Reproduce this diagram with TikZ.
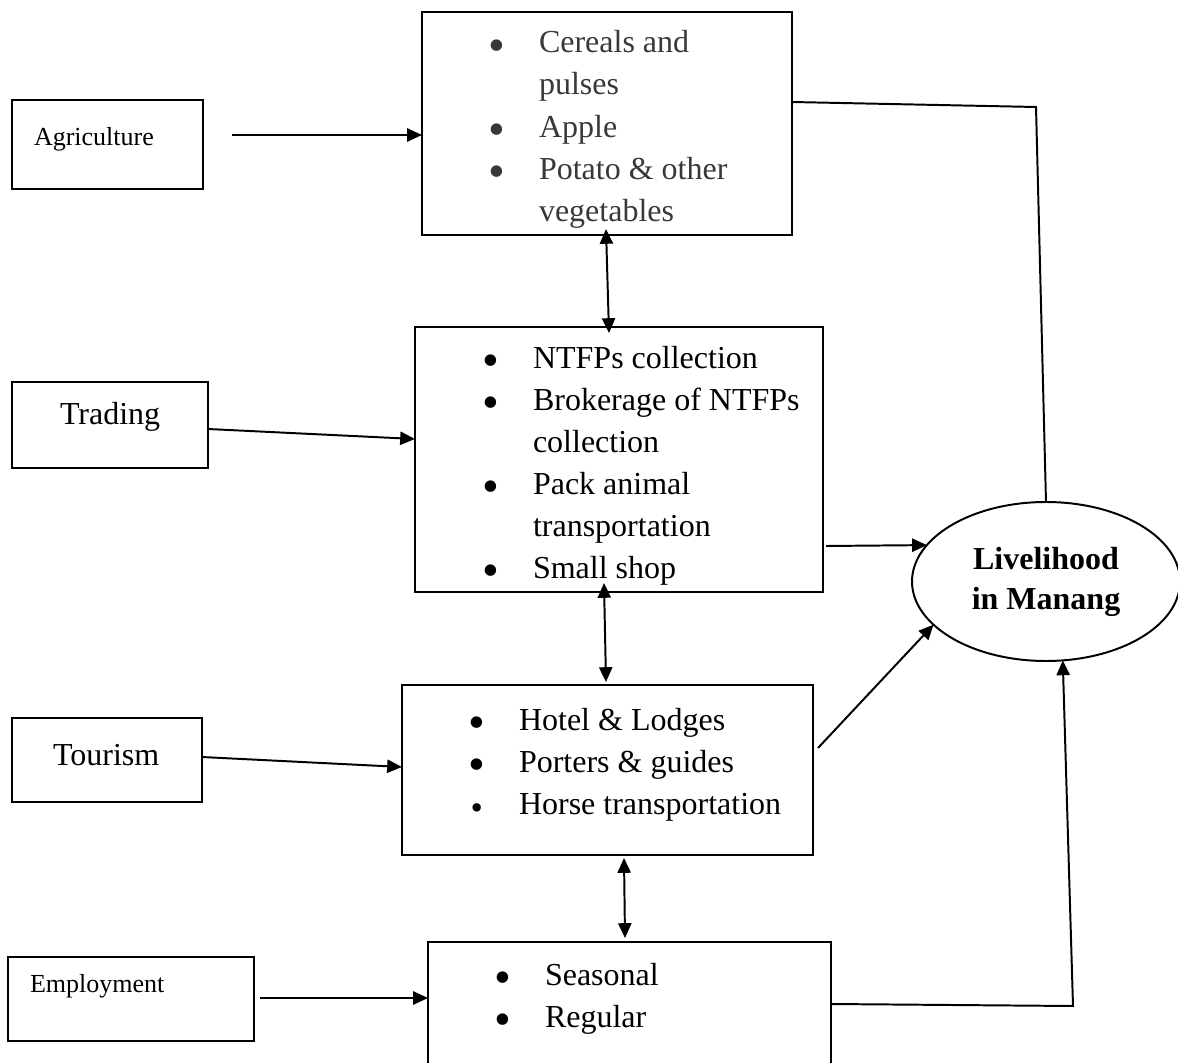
\documentclass[tikz,border=0pt]{standalone}
\usepackage{graphicx}
\usepackage{fontspec}
\setmainfont{Liberation Serif}
\usetikzlibrary{shapes.geometric, arrows.meta}

\newcommand{\bigtxt}{\fontsize{22.76}{29.87}\selectfont}
\newcommand{\smalltxt}{\fontsize{18.5}{22}\selectfont}
\newcommand{\itm}{\llap{\raisebox{-6pt}{\scalebox{1.5}{\textbullet}}\hspace{0.84cm}}}
\newcommand{\itms}{\llap{\raisebox{-3.6pt}{\scalebox{1.1}{\textbullet}}\hspace{0.9cm}}}

\begin{document}
\begin{tikzpicture}[
    x=0.025cm, y=-0.025cm,
    every node/.style={inner sep=0pt, outer sep=0pt},
    box/.style={draw, line width=1.4pt, rectangle},
    txt/.style={anchor=base west, font=\bigtxt},
    smalltxt/.style={anchor=base west, font=\smalltxt},
    link/.style={line width=1.4pt},
    >={Triangle[length=0.37cm, width=0.33cm]}
]
    \def\px{0.025cm}
    \useasboundingbox (0,0) rectangle (1178,1063);

    \node[box, minimum width=191*\px, minimum height=89*\px] (agri) at (107.5,144.5) {};
    \node[box, minimum width=196*\px, minimum height=86*\px] (trade) at (110,425) {};
    \node[box, minimum width=190*\px, minimum height=84*\px] (tour) at (107,760) {};
    \node[box, minimum width=246*\px, minimum height=84*\px] (employ) at (131,999) {};

    \node[smalltxt] (agrit) at (34,146) {Agriculture};
    \node[txt] (tradet) at (60,425) {Trading};
    \node[txt] (tourt) at (53,765) {Tourism};
    \node[smalltxt] (employt) at (30,992) {Employment};

    \node[box, minimum width=370*\px, minimum height=223*\px] (box1) at (607,123.5) {};
    \node[box, minimum width=408*\px, minimum height=265*\px] (box2) at (619,459.5) {};
    \node[box, minimum width=411*\px, minimum height=170*\px] (box3) at (607.5,770) {};
    \node[box, minimum width=403*\px, minimum height=128*\px] (box4) at (629.5,1006) {};

    \node[txt, text=black!78] (box1t) at (539,53) {\begin{tabular}[t]{@{}l@{}}
        \itm Cereals and\\ pulses\\ \itm Apple\\ \itm Potato \& other\\ vegetables
    \end{tabular}};
    \node[txt] (box2t) at (533,368) {\begin{tabular}[t]{@{}l@{}}
        \itm NTFPs collection\\ \itm Brokerage of NTFPs\\ collection\\
        \itm Pack animal\\ transportation\\ \itm Small shop
    \end{tabular}};
    \node[txt] (box3t) at (519,730) {\begin{tabular}[t]{@{}l@{}}
        \itm Hotel \& Lodges\\ \itm Porters \& guides\\ \itms Horse transportation
    \end{tabular}};
    \node[txt] (box4t) at (545,985) {\begin{tabular}[t]{@{}l@{}}
        \itm Seasonal\\ \itm Regular
    \end{tabular}};

    \node[draw, ellipse, line width=1.4pt, minimum width=268*\px, minimum height=159*\px,
        align=center, font=\bfseries\fontsize{22.76}{28.45}\selectfont] (live) at (1046,581.5)
        {Livelihood\\in Manang};

    \coordinate (agriS) at (232,135);
    \coordinate (employS) at (260,998);
    \coordinate (topC) at (1036,107);
    \coordinate (botC) at (1073,1006);

    \draw[link, ->] (agriS) -- (agriS -| box1.west);
    \draw[link, ->] ([yshift=-4*\px]trade.east) -- ([yshift=20.5*\px]box2.west);
    \draw[link, ->] ([yshift=3*\px]tour.east) -- ([yshift=3*\px]box3.west);
    \draw[link, ->] (employS) -- (employS -| box4.west);

    \draw[link, <->] ([xshift=-1*\px, yshift=6*\px]box1.south) -- ([xshift=-10*\px, yshift=-6*\px]box2.north);
    \draw[link, <->] ([xshift=-15*\px, yshift=9*\px]box2.south) -- ([xshift=-1.5*\px, yshift=3*\px]box3.north);
    \draw[link, <->] ([xshift=16.5*\px, yshift=-3*\px]box3.south) -- ([xshift=-4.5*\px, yshift=4*\px]box4.north);

    \draw[link] ([yshift=21.5*\px]box1.east) -- (topC) -- (live.north);
    \draw[link, ->] ([xshift=3*\px, yshift=-86.5*\px]box2.east) -- (live.163);
    \draw[link, ->] ([xshift=5*\px, yshift=22*\px]box3.east) -- (live.201);
    \draw[link, ->] ([yshift=2*\px]box4.east) -- (botC) -- (live.282);
\end{tikzpicture}
\end{document}
